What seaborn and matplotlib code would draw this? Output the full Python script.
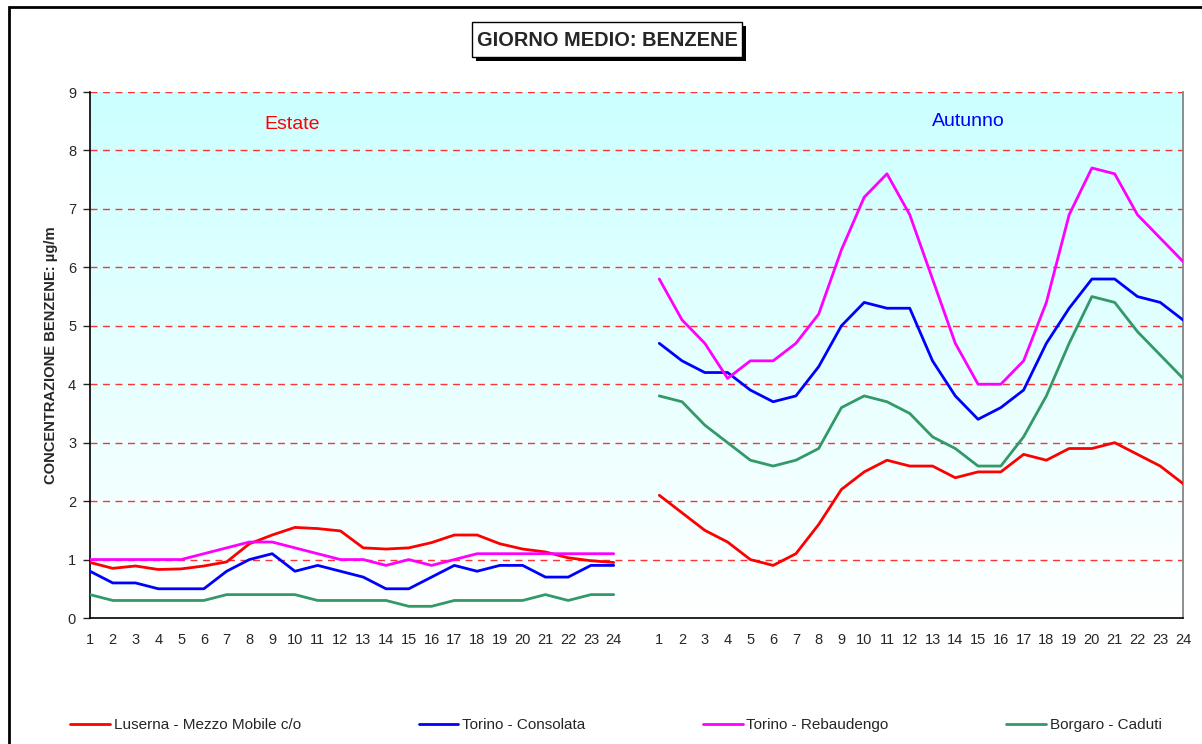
import numpy as np
import pandas as pd
import matplotlib.pyplot as plt
import seaborn as sns
from matplotlib.lines import Line2D
from matplotlib.patches import Rectangle
from matplotlib import font_manager

hours = [str(h) for h in range(1, 25)]
stations = ['Luserna - Mezzo Mobile c/o', 'Torino - Consolata', 'Torino - Rebaudengo', 'Borgaro - Caduti']
colors = ['#FF0000', '#0000FF', '#FF00FF', '#339966']

# Estate (summer) hourly means
estate_luserna = [0.95, 0.85, 0.89, 0.83, 0.84, 0.89, 0.96, 1.27, 1.42, 1.55, 1.53, 1.49,
                  1.20, 1.18, 1.20, 1.29, 1.42, 1.42, 1.27, 1.18, 1.13, 1.03, 0.98, 0.95]
estate_consolata = [0.8, 0.6, 0.6, 0.5, 0.5, 0.5, 0.8, 1.0, 1.1, 0.8, 0.9, 0.8,
                    0.7, 0.5, 0.5, 0.7, 0.9, 0.8, 0.9, 0.9, 0.7, 0.7, 0.9, 0.9]
estate_rebaudengo = [1.0, 1.0, 1.0, 1.0, 1.0, 1.1, 1.2, 1.3, 1.3, 1.2, 1.1, 1.0,
                     1.0, 0.9, 1.0, 0.9, 1.0, 1.1, 1.1, 1.1, 1.1, 1.1, 1.1, 1.1]
estate_borgaro = [0.4, 0.3, 0.3, 0.3, 0.3, 0.3, 0.4, 0.4, 0.4, 0.4, 0.3, 0.3,
                  0.3, 0.3, 0.2, 0.2, 0.3, 0.3, 0.3, 0.3, 0.4, 0.3, 0.4, 0.4]

# Autunno (autumn) hourly means
autunno_luserna = [2.1, 1.8, 1.5, 1.3, 1.0, 0.9, 1.1, 1.6, 2.2, 2.5, 2.7, 2.6,
                   2.6, 2.4, 2.5, 2.5, 2.8, 2.7, 2.9, 2.9, 3.0, 2.8, 2.6, 2.3]
autunno_consolata = [4.7, 4.4, 4.2, 4.2, 3.9, 3.7, 3.8, 4.3, 5.0, 5.4, 5.3, 5.3,
                     4.4, 3.8, 3.4, 3.6, 3.9, 4.7, 5.3, 5.8, 5.8, 5.5, 5.4, 5.1]
autunno_rebaudengo = [5.8, 5.1, 4.7, 4.1, 4.4, 4.4, 4.7, 5.2, 6.3, 7.2, 7.6, 6.9,
                      5.8, 4.7, 4.0, 4.0, 4.4, 5.4, 6.9, 7.7, 7.6, 6.9, 6.5, 6.1]
autunno_borgaro = [3.8, 3.7, 3.3, 3.0, 2.7, 2.6, 2.7, 2.9, 3.6, 3.8, 3.7, 3.5,
                   3.1, 2.9, 2.6, 2.6, 3.1, 3.8, 4.7, 5.5, 5.4, 4.9, 4.5, 4.1]

estate = [estate_luserna, estate_consolata, estate_rebaudengo, estate_borgaro]
autunno = [autunno_luserna, autunno_consolata, autunno_rebaudengo, autunno_borgaro]

rows = []
for name, est, aut in zip(stations, estate, autunno):
    for i, v in enumerate(est):
        rows.append({'pos': i, 'value': v, 'station': name, 'season': 'Estate'})
    for i, v in enumerate(aut):
        rows.append({'pos': i + 25, 'value': v, 'station': name, 'season': 'Autunno'})
df = pd.DataFrame(rows)

sns.set_theme(style='white')
names = {f.name for f in font_manager.fontManager.ttflist}
plt.rcParams['font.family'] = ['Liberation Sans', 'DejaVu Sans']
narrow = 'Liberation Sans Narrow' if 'Liberation Sans Narrow' in names else 'Liberation Sans'

fig = plt.figure(figsize=(12.02, 7.44), dpi=100)
ax = fig.add_axes([90 / 1202, 1 - 618 / 744, 1093 / 1202, 526 / 744])

# cyan-to-white background gradient
grad = np.linspace(1, 0, 256).reshape(-1, 1)
top = np.array([0.8, 1.0, 1.0])
img = np.ones((256, 1, 3)) - grad[..., None] * (1 - top)
ax.imshow(img, extent=[0, 1, 0, 1], transform=ax.transAxes, aspect='auto', zorder=0)

for y in range(1, 10):
    ax.axhline(y, color='#FF3333', lw=1, ls=(0, (5, 4)), zorder=1)

sns.lineplot(data=df, x='pos', y='value', hue='station', hue_order=stations,
             units='season', estimator=None, palette=dict(zip(stations, colors)),
             lw=2, legend=False, ax=ax, zorder=3)

ax.set_xlim(0, 48)
ax.set_ylim(0, 9)
ax.set_yticks(range(0, 10))
ax.set_xticks(range(49))
ax.set_xticklabels(hours + [''] + hours)
ax.tick_params(axis='x', length=0, labelsize=10.5, pad=11)
ax.tick_params(axis='y', length=5, width=1, direction='out', labelsize=10.5, pad=5, left=True)
ax.set_xlabel('')
ax.set_ylabel('CONCENTRAZIONE BENZENE: µg/m', fontsize=10.6, fontweight='bold', labelpad=7)

for s in ['left', 'bottom']:
    ax.spines[s].set_color('black')
    ax.spines[s].set_linewidth(1.2)
ax.spines['right'].set_color('#808080')
ax.spines['top'].set_visible(False)

ax.text(8.87, 8.45, 'Estate', color='#FF0000', fontsize=14, ha='center', va='center', zorder=5)
ax.text(38.56, 8.49, 'Autunno', color='#0000FF', fontsize=14, ha='center', va='center', zorder=5)

# title box with shadow
fig.patches.append(Rectangle((476 / 1202, 1 - 61 / 744), 270 / 1202, 35 / 744,
                             transform=fig.transFigure, fc='black', ec='none'))
fig.patches.append(Rectangle((472 / 1202, 1 - 57 / 744), 270 / 1202, 35 / 744,
                             transform=fig.transFigure, fc='white', ec='black', lw=1))
fig.text(607 / 1202, 1 - 40 / 744, 'GIORNO MEDIO: BENZENE', fontsize=14.4, fontweight='bold',
         ha='center', va='center')

# outer frame
fig.patches.append(Rectangle((9 / 1202, -0.1), 1.2, (744 - 7) / 744 + 0.1, transform=fig.transFigure,
                             fill=False, ec='black', lw=2))

handles = [Line2D([], [], color=c, lw=2) for c in colors]
fig.legend(handles, stations, loc='center', bbox_to_anchor=(616 / 1202, 1 - 725 / 744), ncol=4,
           frameon=False, prop={'family': narrow, 'size': 11}, handlelength=2.6,
           handletextpad=0.25, columnspacing=7.7)

plt.savefig('out.png', dpi=100)
